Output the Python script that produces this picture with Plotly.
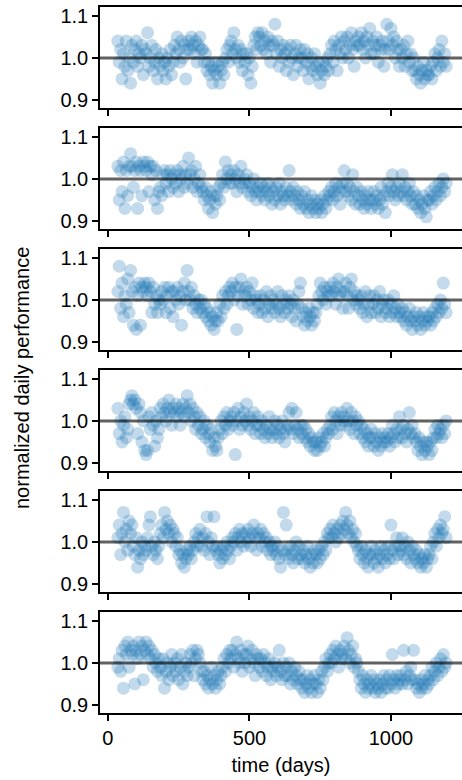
import plotly.graph_objects as go
from plotly.subplots import make_subplots

# time axis (days)
days = list(range(35, 1200, 5))

panel1 = [
    1.04, 0.99, 1.02, 0.95, 1.01, 0.98, 1.04, 0.97, 1.00, 0.94,
    1.03, 0.99, 1.02, 1.04, 0.98, 1.01, 1.00, 1.03, 0.96, 1.02,
    1.01, 1.06, 0.98, 1.00, 1.03, 0.97, 0.99, 1.02, 0.95, 1.00,
    0.98, 1.01, 0.97, 0.99, 0.95, 1.00, 0.98, 1.02, 0.96, 0.99,
    1.03, 1.01, 1.05, 1.02, 0.99, 1.04, 1.00, 1.03, 0.95, 1.02,
    1.04, 1.02, 1.05, 1.03, 1.01, 1.04, 0.99, 1.03, 1.05, 1.02,
    1.02, 0.99, 1.01, 0.97, 0.99, 0.96, 0.98, 0.94, 0.97, 0.99,
    0.96, 0.98, 0.94, 0.97, 0.99, 0.96, 1.00, 1.02, 0.99, 1.03,
    1.04, 1.01, 1.06, 1.02, 1.00, 1.03, 0.99, 1.02, 0.97, 1.01,
    0.99, 1.01, 0.96, 1.00, 0.94, 0.98, 1.03, 1.05, 1.02, 1.06,
    1.05, 1.03, 1.06, 1.02, 1.04, 1.01, 1.05, 1.03, 0.99, 1.04,
    1.03, 1.08, 1.01, 1.04, 0.98, 1.02, 1.00, 1.03, 1.01, 0.97,
    1.02, 0.99, 1.03, 1.00, 0.96, 1.01, 1.03, 0.98, 1.00, 1.02,
    1.00, 0.97, 1.02, 0.99, 1.01, 0.95, 0.98, 1.00, 0.97, 1.01,
    0.98, 0.96, 0.99, 0.94, 0.97, 0.99, 0.96, 0.98, 1.00, 0.97,
    1.01, 1.03, 0.99, 1.04, 1.02, 0.97, 1.03, 1.01, 1.05, 1.00,
    1.04, 1.02, 1.05, 1.00, 1.03, 1.06, 1.02, 0.98, 1.04, 1.03,
    1.05, 1.03, 1.06, 1.02, 1.04, 1.00, 1.05, 1.03, 1.07, 1.01,
    1.04, 1.01, 1.03, 1.05, 0.99, 1.03, 1.02, 1.04, 0.98, 1.02,
    1.08, 1.04, 1.02, 1.07, 1.03, 1.05, 1.00, 1.04, 1.02, 0.98,
    1.02, 1.00, 1.03, 0.98, 1.01, 1.04, 0.99, 1.01, 0.97, 1.00,
    0.97, 0.95, 0.98, 0.96, 0.94, 0.97, 0.99, 0.95, 0.97, 0.96,
    0.96, 0.98, 0.95, 0.99, 1.01, 0.97, 1.00, 1.02, 0.98, 1.04,
    0.99, 1.01, 0.98,
]

panel2 = [
    1.03, 0.95, 1.02, 0.97, 1.04, 0.93, 1.02, 0.96, 1.03, 1.06,
    1.03, 0.98, 1.02, 1.04, 0.93, 1.03, 1.02, 0.96, 1.04, 1.03,
    1.02, 1.04, 0.97, 1.03, 1.01, 1.03, 0.95, 1.02, 0.93, 0.97,
    0.98, 0.96, 1.01, 1.02, 0.99, 1.01, 0.97, 1.02, 1.00, 0.98,
    1.01, 0.99, 1.02, 0.97, 1.01, 1.00, 1.03, 0.98, 1.01, 0.99,
    1.05, 1.01, 1.02, 0.98, 1.00, 1.03, 0.97, 0.99, 1.01, 0.98,
    0.97, 0.95, 0.98, 0.96, 0.93, 0.95, 0.97, 0.92, 0.96, 0.94,
    0.96, 0.98, 0.95, 0.99, 1.01, 0.98, 1.04, 1.00, 1.02, 0.99,
    1.01, 0.99, 1.02, 1.00, 0.97, 1.01, 0.99, 1.03, 0.98, 1.00,
    0.99, 1.01, 0.97, 0.99, 0.96, 0.98, 1.00, 0.97, 0.95, 0.98,
    0.97, 0.99, 0.96, 0.98, 0.95, 0.97, 0.99, 0.96, 0.98, 0.94,
    0.97, 0.95, 0.98, 0.96, 0.99, 0.94, 0.97, 0.96, 0.95, 0.98,
    0.96, 1.02, 0.97, 0.95, 0.98, 0.96, 0.94, 0.97, 0.95, 0.93,
    0.96, 0.94, 0.97, 0.93, 0.95, 0.92, 0.94, 0.96, 0.93, 0.95,
    0.92, 0.94, 0.93, 0.95, 0.92, 0.94, 0.96, 0.93, 0.95, 0.97,
    0.96, 0.98, 0.95, 0.97, 0.99, 0.96, 0.98, 0.94, 0.97, 0.99,
    1.02, 0.97, 0.99, 0.96, 0.98, 0.95, 1.01, 0.97, 0.94, 0.98,
    0.96, 0.94, 0.97, 0.95, 0.93, 0.96, 0.94, 0.97, 0.95, 0.93,
    0.95, 0.97, 0.94, 0.96, 0.93, 0.95, 0.98, 0.94, 0.96, 0.92,
    0.97, 0.99, 0.96, 0.98, 1.01, 0.97, 0.95, 0.98, 0.96, 0.99,
    0.97, 1.01, 0.96, 0.98, 0.95, 0.97, 0.99, 0.96, 0.94, 0.97,
    0.94, 0.96, 0.93, 0.95, 0.92, 0.94, 0.96, 0.93, 0.91, 0.95,
    0.95, 0.97, 0.94, 0.96, 0.98, 0.95, 0.97, 0.99, 0.96, 0.98,
    1.00, 0.97, 0.99,
]

panel3 = [
    1.02, 1.08, 0.98, 1.04, 0.96, 1.01, 0.99, 1.05, 0.97, 1.07,
    1.02, 0.94, 1.03, 0.93, 1.01, 1.04, 0.94, 1.03, 1.02, 1.04,
    1.03, 1.01, 1.04, 1.02, 0.97, 1.03, 0.99, 1.01, 0.97, 1.00,
    0.99, 1.02, 1.00, 1.03, 0.97, 1.01, 1.03, 0.98, 1.02, 0.96,
    1.02, 1.00, 1.03, 0.99, 1.01, 0.94, 1.02, 1.04, 1.00, 1.07,
    1.02, 1.00, 1.03, 0.98, 1.01, 0.99, 0.97, 1.00, 0.98, 1.00,
    0.97, 0.99, 0.96, 0.98, 0.95, 0.97, 0.94, 0.96, 0.93, 0.95,
    0.97, 0.95, 0.99, 0.96, 1.01, 0.98, 1.02, 0.99, 1.01, 1.03,
    1.02, 1.04, 1.00, 1.03, 0.93, 1.01, 1.03, 1.05, 0.99, 1.02,
    1.01, 1.03, 0.99, 1.02, 1.00, 1.04, 0.98, 1.01, 1.00, 0.97,
    0.99, 1.01, 0.97, 1.00, 0.98, 1.02, 0.96, 0.99, 1.01, 0.98,
    1.00, 0.97, 0.99, 1.02, 0.98, 0.96, 1.01, 0.99, 0.97, 1.00,
    0.98, 1.01, 0.99, 0.96, 1.00, 0.98, 0.95, 0.99, 1.02, 1.04,
    0.98, 0.96, 0.94, 0.97, 0.95, 0.98, 0.96, 0.94, 0.97, 0.95,
    0.97, 0.99, 1.01, 1.04, 1.02, 1.00, 1.03, 0.99, 1.02, 1.01,
    1.03, 1.01, 1.04, 1.02, 0.99, 1.03, 1.05, 1.01, 1.02, 0.98,
    1.02, 1.04, 1.01, 0.98, 1.03, 1.05, 1.00, 1.02, 0.99, 1.01,
    1.00, 0.98, 1.01, 0.97, 0.99, 1.02, 0.96, 0.99, 1.01, 0.97,
    0.99, 1.01, 0.97, 1.00, 0.98, 1.02, 0.96, 0.99, 1.00, 0.97,
    0.98, 1.00, 0.96, 0.99, 0.97, 1.01, 0.98, 0.96, 0.99, 0.97,
    0.96, 0.98, 0.95, 0.97, 0.94, 0.96, 0.98, 0.95, 0.93, 0.96,
    0.95, 0.97, 0.94, 0.96, 0.93, 0.95, 0.97, 0.94, 0.96, 0.95,
    0.96, 0.94, 0.97, 0.95, 0.98, 0.96, 0.99, 0.97, 1.00, 0.98,
    1.04, 0.99, 0.97,
]

panel4 = [
    1.03, 0.97, 1.00, 0.95, 0.99, 1.01, 0.96, 0.98, 1.04, 1.05,
    1.06, 1.04, 1.05, 1.03, 0.97, 1.04, 1.02, 0.95, 1.00, 0.93,
    0.92, 0.93, 1.01, 0.98, 1.02, 0.99, 0.94, 1.00, 0.96, 0.98,
    1.03, 1.01, 1.04, 1.02, 1.00, 1.03, 1.05, 1.02, 0.99, 1.03,
    1.02, 1.04, 1.01, 1.03, 0.99, 1.02, 1.04, 1.01, 1.03, 1.06,
    1.02, 1.04, 1.00, 1.03, 1.01, 0.98, 1.02, 0.99, 1.01, 0.97,
    0.98, 1.00, 0.96, 0.99, 0.97, 0.95, 0.98, 0.93, 0.96, 0.94,
    0.93, 0.96, 0.98, 1.00, 0.97, 1.01, 0.99, 1.02, 0.98, 1.00,
    1.01, 0.99, 1.02, 0.92, 1.00, 1.03, 0.98, 1.01, 0.99, 1.02,
    1.00, 1.04, 0.99, 1.01, 0.98, 1.00, 1.02, 0.97, 0.99, 1.01,
    0.99, 0.97, 1.00, 0.98, 0.96, 0.99, 0.97, 1.01, 0.98, 0.96,
    0.98, 1.00, 0.97, 0.99, 0.96, 0.98, 1.00, 0.97, 0.95, 0.98,
    0.99, 1.02, 0.98, 1.03, 0.97, 0.99, 1.02, 0.98, 0.96, 0.99,
    0.97, 0.99, 0.96, 0.98, 0.95, 0.97, 0.94, 0.96, 0.95, 0.93,
    0.95, 0.93, 0.96, 0.94, 0.95, 0.97, 0.94, 0.96, 0.98, 0.97,
    0.99, 1.01, 0.98, 1.02, 1.00, 0.97, 1.01, 0.99, 1.02, 1.00,
    1.01, 0.99, 1.03, 1.00, 0.98, 1.02, 1.00, 0.97, 1.01, 0.99,
    1.00, 0.97, 0.99, 0.96, 0.98, 0.95, 0.97, 0.94, 0.96, 0.98,
    0.96, 0.94, 0.97, 0.95, 0.93, 0.96, 0.94, 0.97, 0.95, 0.96,
    0.95, 0.97, 0.94, 0.96, 0.99, 0.97, 0.95, 0.98, 0.96, 1.01,
    0.98, 0.96, 0.99, 0.97, 0.95, 0.98, 1.02, 0.97, 0.99, 0.96,
    0.97, 0.95, 0.93, 0.96, 0.94, 0.92, 0.95, 0.93, 0.95, 0.94,
    0.92, 0.95, 0.93, 0.96, 0.98, 0.96, 0.99, 0.97, 0.98, 0.96,
    0.99, 0.97, 1.00,
]

panel5 = [
    1.01, 1.04, 0.97, 1.02, 1.07, 1.00, 1.03, 0.98, 1.05, 1.02,
    1.04, 0.99, 0.97, 1.01, 0.94, 0.98, 0.96, 1.00, 0.97, 0.99,
    0.98, 1.01, 1.04, 1.06, 0.99, 0.97, 1.00, 0.98, 0.96, 0.99,
    1.02, 1.04, 1.01, 1.07, 1.03, 1.05, 1.02, 1.04, 1.00, 1.03,
    1.02, 0.99, 1.01, 0.97, 0.98, 0.95, 0.97, 0.94, 0.96, 0.98,
    0.97, 0.99, 0.96, 0.98, 1.00, 1.02, 0.99, 1.01, 1.03, 0.99,
    1.01, 0.98, 1.02, 1.06, 1.00, 0.97, 1.01, 0.99, 1.06, 0.98,
    0.99, 0.97, 0.95, 0.98, 0.96, 0.99, 0.97, 1.00, 0.98, 0.96,
    0.99, 1.01, 1.00, 1.02, 0.98, 1.01, 1.03, 1.00, 1.02, 0.99,
    1.02, 1.00, 1.03, 1.01, 0.99, 1.02, 1.04, 1.01, 0.98, 1.02,
    1.01, 1.03, 0.99, 1.02, 1.00, 1.01, 0.98, 1.00, 0.97, 0.99,
    0.98, 1.00, 0.97, 0.99, 0.96, 0.94, 0.98, 1.07, 0.97, 1.04,
    0.98, 0.96, 0.99, 0.97, 0.95, 0.98, 1.00, 0.96, 0.99, 0.97,
    0.96, 0.98, 0.95, 0.97, 0.99, 0.96, 0.94, 0.97, 0.95, 0.98,
    0.97, 0.95, 0.98, 0.96, 0.99, 0.97, 1.00, 0.98, 1.02, 1.01,
    1.03, 1.01, 1.04, 1.02, 1.00, 1.03, 1.01, 1.04, 1.02, 1.05,
    1.03, 1.07, 1.04, 1.02, 1.05, 1.01, 1.03, 1.00, 1.02, 0.99,
    0.98, 0.96, 0.99, 0.97, 0.95, 0.98, 0.96, 0.94, 0.97, 0.99,
    0.97, 0.95, 0.98, 0.96, 0.94, 0.97, 0.99, 0.96, 0.98, 0.95,
    0.97, 0.99, 0.96, 1.04, 0.98, 0.96, 0.99, 1.01, 0.97, 0.99,
    0.98, 1.01, 0.97, 0.99, 0.96, 1.00, 0.98, 0.95, 0.99, 0.97,
    0.96, 0.98, 0.95, 0.97, 0.94, 0.96, 0.95, 0.97, 0.94, 0.96,
    0.97, 0.99, 0.96, 1.00, 1.02, 0.99, 1.03, 1.01, 1.04, 1.02,
    1.03, 1.06, 1.01,
]

panel6 = [
    0.99, 1.01, 0.98, 1.03, 0.94, 1.04, 1.02, 1.05, 0.99, 1.03,
    1.02, 1.04, 0.95, 1.03, 1.01, 1.05, 1.02, 1.04, 0.96, 1.03,
    1.05, 1.02, 1.04, 1.01, 1.03, 0.99, 1.02, 1.00, 0.98, 1.01,
    0.99, 0.97, 1.01, 0.94, 0.98, 1.00, 0.96, 0.99, 1.02, 0.97,
    1.00, 0.98, 1.01, 0.96, 0.99, 1.02, 0.95, 0.98, 1.00, 0.97,
    0.99, 1.02, 1.00, 1.03, 0.97, 1.01, 1.03, 1.02, 1.00, 0.98,
    0.96, 0.98, 0.95, 0.97, 0.94, 0.96, 0.99, 0.95, 0.97, 0.94,
    0.96, 0.98, 0.95, 0.97, 0.99, 1.01, 0.98, 1.02, 1.00, 1.03,
    1.01, 1.03, 0.99, 1.02, 1.05, 1.01, 1.00, 1.03, 0.98, 1.02,
    1.00, 1.02, 1.04, 0.99, 1.01, 1.03, 1.00, 0.97, 1.02, 1.01,
    0.99, 1.01, 0.98, 1.02, 1.00, 0.97, 0.99, 1.01, 0.96, 0.99,
    0.98, 1.00, 0.97, 0.99, 1.03, 0.98, 0.96, 1.00, 0.97, 0.99,
    0.97, 1.00, 0.95, 0.98, 0.96, 0.99, 0.97, 0.95, 0.98, 0.96,
    0.94, 0.96, 0.93, 0.95, 0.97, 0.94, 0.96, 0.93, 0.95, 0.97,
    0.95, 0.93, 0.96, 0.94, 0.98, 0.96, 0.99, 1.01, 0.98, 1.00,
    1.02, 1.00, 1.03, 1.01, 1.04, 1.02, 0.99, 1.03, 1.01, 1.02,
    1.04, 1.01, 1.06, 1.03, 1.00, 1.02, 1.04, 0.99, 1.01, 1.00,
    0.98, 0.96, 0.94, 0.97, 0.95, 0.93, 0.96, 0.94, 0.95, 0.97,
    0.94, 0.96, 0.93, 0.95, 0.94, 0.96, 0.93, 0.95, 0.97, 0.94,
    0.96, 0.94, 0.97, 0.95, 1.02, 0.96, 0.94, 0.97, 0.95, 0.96,
    0.97, 0.95, 1.03, 0.96, 0.98, 0.95, 0.97, 0.99, 0.96, 1.03,
    0.96, 0.94, 0.95, 0.93, 0.96, 0.94, 0.95, 0.97, 0.94, 0.96,
    0.95, 0.97, 0.99, 0.96, 0.98, 1.00, 0.97, 0.99, 1.01, 0.98,
    1.02, 0.99, 1.00,
]

panels = [panel1, panel2, panel3, panel4, panel5, panel6]
x_ticks = [0, 500, 1000]
y_ticks = [0.9, 1.0, 1.1]
y_tick_text = ["0.9", "1.0", "1.1"]
reference_level = 1.0

FONT = "Liberation Sans, Arial, Helvetica, sans-serif"
FS = 20
W, H = 462, 780
M_L, M_R, M_T, M_B = 100, 0, 7, 67
plot_w = W - M_L - M_R
plot_h = H - M_T - M_B

fig = make_subplots(rows=6, cols=1, shared_xaxes=True,
                    vertical_spacing=20 / plot_h)

for i, vals in enumerate(panels, start=1):
    fig.add_trace(go.Scatter(
        x=days, y=vals, mode="markers",
        marker=dict(size=13, color="#1f77b4", opacity=0.27,
                    line=dict(width=0)),
        showlegend=False, hoverinfo="skip"), row=i, col=1)
    fig.add_hline(y=reference_level,
                  line=dict(color="rgba(0,0,0,0.62)", width=3),
                  row=i, col=1)

fig.update_xaxes(range=[-28, 1251], tickvals=x_ticks, ticks="outside",
                 ticklen=6, tickwidth=1.5, tickcolor="black",
                 showline=True, mirror=True, linecolor="black",
                 linewidth=1.5, showgrid=False, zeroline=False,
                 automargin=False,
                 tickfont=dict(family=FONT, size=FS, color="black"))
fig.update_yaxes(range=[0.881, 1.121], tickvals=y_ticks,
                 ticktext=y_tick_text, ticks="outside", ticklen=6,
                 tickwidth=1.5, tickcolor="black", showline=True,
                 mirror=False, linecolor="black", linewidth=1.5,
                 showgrid=False, zeroline=False, automargin=False,
                 tickfont=dict(family=FONT, size=FS, color="black"))
fig.update_xaxes(title=dict(text="time (days)",
                            font=dict(family=FONT, size=FS, color="black"),
                            standoff=10), row=6, col=1)

fig.add_annotation(text="normalized daily performance", textangle=-90,
                   xref="paper", yref="paper",
                   x=(22 - M_L) / plot_w,
                   y=(H - M_B - 378) / plot_h,
                   xanchor="center", yanchor="middle", showarrow=False,
                   font=dict(family=FONT, size=FS, color="black"))

fig.update_layout(width=W, height=H,
                  margin=dict(l=M_L, r=M_R, t=M_T, b=M_B, autoexpand=False),
                  plot_bgcolor="white", paper_bgcolor="white",
                  font=dict(family=FONT, size=FS, color="black"))

fig.write_html("out.html", config={"displayModeBar": False},
               post_script="document.body.style.margin='0px';")
